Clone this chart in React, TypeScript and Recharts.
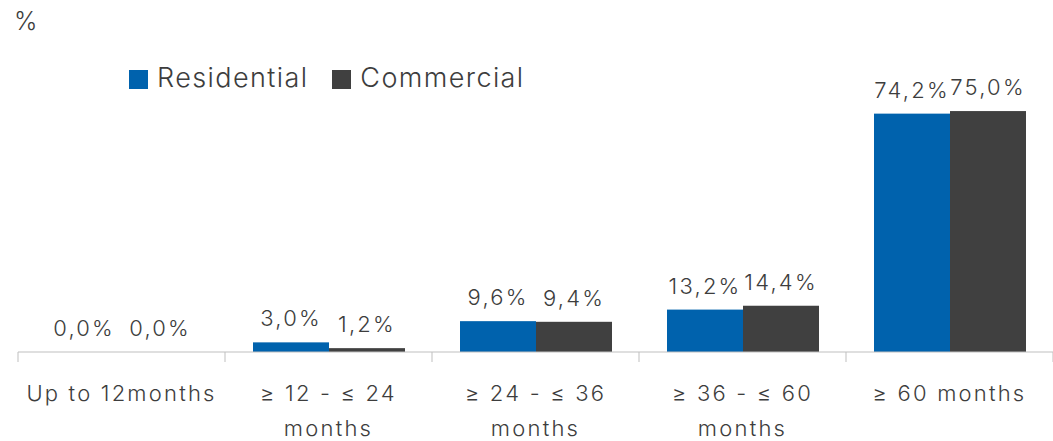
import { BarChart, Bar, XAxis, YAxis, LabelList } from "recharts";

const categories = ["Up to 12months", "≥  12 - ≤ 24 months", "≥ 24 - ≤ 36 months", "≥ 36 - ≤ 60 months", "≥ 60 months"];
const tickLines = [["Up to 12months"], ["≥  12 - ≤ 24", "months"], ["≥ 24 - ≤ 36", "months"], ["≥ 36 - ≤ 60", "months"], ["≥ 60 months"]];
const residential = [0.0, 3.0, 9.6, 13.2, 74.2];
const commercial = [0.0, 1.2, 9.4, 14.4, 75.0];

const data = categories.map((name, i) => ({
  name,
  residential: residential[i],
  commercial: commercial[i],
}));

const W = 1053;
const H = 441;
const margin = { top: 95, right: 0, left: 18, bottom: 0 };
const band = (W - margin.left - margin.right) / categories.length;

const FONT = "Inter, sans-serif";
const TEXT = "#3d3d3d";
const BLUE = "#0062ad";
const GREY = "#404040";
const SPACING = 2.2;

const fmt = (v: any) => Number(v).toFixed(1).replace(".", ",") + "%";

// skip drawing zero-height bars but keep their labels
const barShape = (key: string) => (p: any) =>
  p.payload && p.payload[key] > 0 ? (
    <rect x={p.x} y={p.y} width={p.width} height={p.height} fill={p.fill} />
  ) : (
    <g />
  );

function Tick(props: any) {
  const { x, y, index } = props;
  const lines = tickLines[index] || [];
  const left = x - band / 2;
  return (
    <g>
      <line x1={left} x2={left} y1={y} y2={y + 10} stroke="#bfbfbf" />
      {index === categories.length - 1 && (
        <line x1={x + band / 2} x2={x + band / 2} y1={y} y2={y + 10} stroke="#bfbfbf" />
      )}
      {lines.map((l, i) => (
        <text
          key={i}
          x={x}
          y={y + 49 + i * 35}
          textAnchor="middle"
          fontFamily={FONT}
          fontWeight={300}
          fontSize={22}
          letterSpacing={SPACING}
          fill={TEXT}
        >
          {l}
        </text>
      ))}
    </g>
  );
}

const labelProps = {
  position: "top" as const,
  offset: 16,
  formatter: fmt,
  fill: TEXT,
  fontSize: 22,
  fontFamily: FONT,
  fontWeight: 300,
  letterSpacing: SPACING,
};

export default function App() {
  return (
    <div style={{ position: "relative", width: W, height: H, fontFamily: FONT }}>
      <style>{"body{margin:0}"}</style>
      <span style={{ position: "absolute", left: 14, top: 6, fontSize: 25, fontWeight: 300, color: TEXT }}>%</span>
      <div style={{ position: "absolute", left: 129, top: 61, display: "flex", alignItems: "center", fontSize: 27, fontWeight: 300, letterSpacing: 1.4, color: TEXT }}>
        <span style={{ width: 19, height: 19, background: BLUE, display: "inline-block", marginRight: 9, marginTop: 4 }} />
        <span style={{ marginRight: 24 }}>Residential</span>
        <span style={{ width: 19, height: 19, background: GREY, display: "inline-block", marginRight: 9, marginTop: 4 }} />
        <span>Commercial</span>
      </div>
      <BarChart width={W} height={H} data={data} margin={margin} barCategoryGap={28} barGap={0}>
        <YAxis hide domain={[0, 80]} />
        <XAxis
          dataKey="name"
          axisLine={{ stroke: "#bfbfbf" }}
          tickLine={false}
          tickSize={0}
          tickMargin={0}
          height={89}
          interval={0}
          tick={<Tick />}
        />
        <Bar dataKey="residential" fill={BLUE} minPointSize={0.5} shape={barShape("residential")} isAnimationActive={false}>
          <LabelList dataKey="residential" {...labelProps} />
        </Bar>
        <Bar dataKey="commercial" fill={GREY} minPointSize={0.5} shape={barShape("commercial")} isAnimationActive={false}>
          <LabelList dataKey="commercial" {...labelProps} />
        </Bar>
      </BarChart>
    </div>
  );
}
